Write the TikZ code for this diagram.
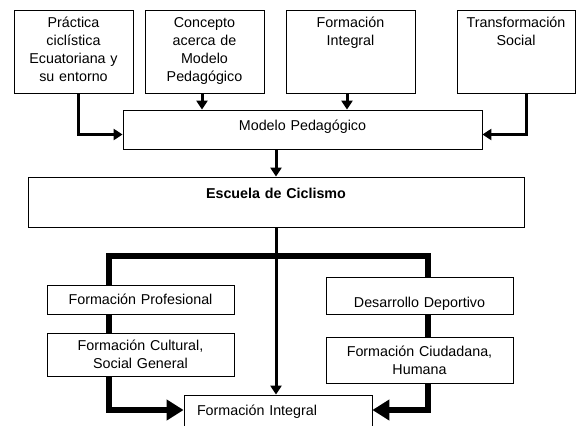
\documentclass[tikz,border=0pt]{standalone}
\usepackage{fontspec}
\setmainfont{Liberation Sans}
\usetikzlibrary{arrows.meta}

\begin{document}
\begin{tikzpicture}[x=1pt, y=-1pt, line join=miter, font=\fontsize{14.3}{18}\selectfont,
		caja/.style={draw, fill=white, line width=0.8pt, inner sep=0pt, align=center},
		flecha/.style={line width=3pt, -{Triangle[width=11pt,length=9pt]}},
		gruesa/.style={line width=6pt, -{Triangle[width=20pt,length=17pt]}}]
			\useasboundingbox (0,0) rectangle (587,426);
			\node[caja, text width=119pt, text height=17pt, text depth=66pt] (practica) at (73.5,51.5) {Práctica\\ciclística\\Ecuatoriana y\\su entorno};
			\node[caja, text width=119pt, text height=17pt, text depth=66pt] (concepto) at (204.5,51.5) {Concepto\\acerca de\\Modelo\\Pedagógico};
			\node[caja, text width=129pt, text height=17pt, text depth=66pt] (integral) at (350.5,51.5) {Formación\\Integral};
			\node[caja, text width=118pt, text height=17pt, text depth=66pt] (transformacion) at (516,51.5) {Transformación\\Social};
			\node[caja, text width=359pt, text height=20pt, text depth=19pt] (modelo) at (302.5,129.5) {Modelo Pedagógico};
			\node[caja, text width=496pt, text height=21pt, text depth=29pt] (escuela) at (276,202) {\textbf{Escuela de Ciclismo}};
			\node[caja, inner xsep=13pt, text width=162pt, align=left, text height=20pt, text depth=20pt] (fintegral) at (278,415) {Formación Integral};
			\draw[flecha] ([xshift=4.5pt]practica.south) |- ([yshift=-5pt]modelo.west);
			\draw[flecha] ([xshift=-2.5pt]concepto.south) -- ([xshift=-2.5pt]concepto.south |- modelo.north);
			\draw[flecha] ([xshift=-3.5pt]integral.south) -- ([xshift=-3.5pt]integral.south |- modelo.north);
			\draw[flecha] ([xshift=10pt]transformacion.south) |- ([yshift=-5pt]modelo.east);
			\draw[flecha] (escuela.north |- modelo.south) -- (escuela.north);
			\draw[flecha] (escuela.south) -- (escuela.south |- fintegral.north);
			\coordinate (izq) at (109,256);
			\coordinate (der) at (428,256);
			\draw[gruesa] (der) -- (izq) |- ([yshift=5pt]fintegral.west);
			\draw[gruesa] (izq) -- (der) |- ([yshift=5pt]fintegral.east);
			\node[caja, text width=187pt, minimum height=29pt] (fprofesional) at (140.5,299.5) {Formación Profesional};
			\node[caja, text width=187pt, minimum height=43pt] (fcultural) at (140.5,354.5) {Formación Cultural,\\Social General};
			\node[caja, text width=187pt, text height=30pt, text depth=7pt] (deportivo) at (419.5,295.5) {Desarrollo Deportivo};
			\node[caja, text width=187pt, minimum height=46pt] (ciudadana) at (419.5,360) {Formación Ciudadana,\\Humana};
		\end{tikzpicture}
\end{document}
